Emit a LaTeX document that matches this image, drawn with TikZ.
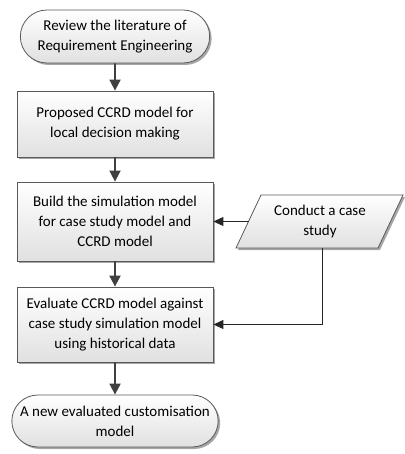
\documentclass[tikz,border=0pt]{standalone}
\usepackage{fontspec}
\setmainfont{Carlito}
\usetikzlibrary{shapes.misc,shadows,arrows.meta}
\begin{document}
\begin{tikzpicture}[x=1pt,y=-1pt,
  txt/.style={font=\fontsize{15}{20}\selectfont, align=center},
  boxsty/.style={txt, rectangle, draw=black!65, line width=0.8pt, top color=white, bottom color=black!12,
    minimum width=196pt, drop shadow={shadow xshift=2pt, shadow yshift=-2pt, fill=black!35, opacity=1}},
  termsty/.style={boxsty, rounded rectangle},
  arr/.style={-{Triangle[length=11pt,width=11pt]}, draw=black!75, line width=1.8pt},
  arrthin/.style={-{Triangle[length=10pt,width=9pt]}, draw=black!85, line width=0.9pt}]
\useasboundingbox (0,0) rectangle (404,454);
\node[termsty, minimum height=53pt] (t1) at (115,36.5) {Review the literature of\\Requirement Engineering};
\node[boxsty, minimum height=66pt] (b2) at (115,124) {Proposed CCRD model for\\local decision making};
\node[boxsty, minimum height=79pt] (b3) at (115,221.5) {Build the simulation model\\for case study model and\\CCRD model};
\node[boxsty, minimum height=75pt] (b4) at (115,324.5) {Evaluate CCRD model against\\case study simulation model\\using historical data};
\node[termsty, minimum height=52pt] (t5) at (115,421) {A new evaluated customisation\\model};
% parallelogram
\fill[black!35] (238,250) -- (263,197) -- (405,197) -- (380,250) -- cycle;
\shade[top color=white, bottom color=black!12, draw=black!65, line width=0.8pt]
  (236,248) -- (261,195) -- (403,195) -- (378,248) -- cycle;
\node[txt] (cs) at (320,221.5) {Conduct a case\\study};
\coordinate (csl) at (248.5,221.5);
\coordinate (csb) at (322,248);
\draw[arr] (t1) -- (b2);
\draw[arr] (b2) -- (b3);
\draw[arr] (b3) -- (b4);
\draw[arr] (b4) -- (t5);
\draw[arrthin] (csl) -- (b3.east);
\draw[arrthin] (csb) |- (b4.east);
\end{tikzpicture}
\end{document}
